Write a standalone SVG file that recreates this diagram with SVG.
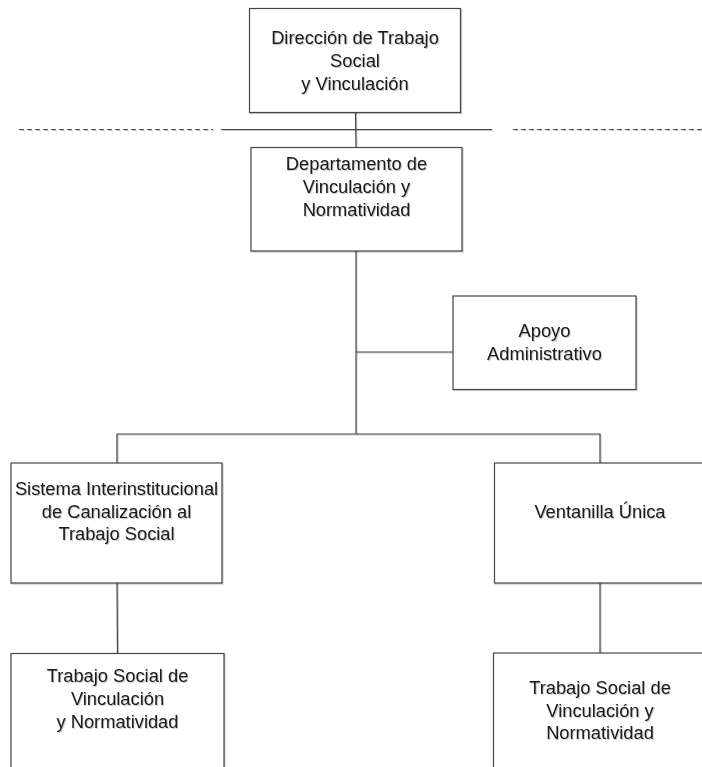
<svg xmlns="http://www.w3.org/2000/svg" width="702" height="767" viewBox="0 0 702 767">
  <defs>
    <!-- light drop shadow; user-space region so straight lines keep it too -->
    <filter id="soft" filterUnits="userSpaceOnUse" x="0" y="0" width="702" height="767">
      <feDropShadow dx="1" dy="1" stdDeviation="0.6" flood-color="#000" flood-opacity="0.22"/>
    </filter>
  </defs>
  <style>
    .box { fill: #ffffff; stroke: #444444; stroke-width: 1.2; filter: url(#soft); }
    .link { fill: none; stroke: #444444; stroke-width: 1.2; filter: url(#soft); }
    .dash { fill: none; stroke: #555555; stroke-width: 1.2; stroke-dasharray: 5 3; filter: url(#soft); }
    .lbl { font-family: "Liberation Sans", Arial, sans-serif; font-size: 18.3px; fill: #1a1a1a; text-anchor: middle; filter: url(#soft); }
  </style>
  <rect width="702" height="767" fill="#ffffff"/>

  <!-- connectors -->
  <g id="connectors">
    <line class="dash" x1="19" y1="129.5" x2="213" y2="129.5"/>
    <line class="link" x1="221" y1="129.5" x2="492" y2="129.5"/>
    <line class="dash" x1="513" y1="129.5" x2="702" y2="129.5"/>
    <line class="link" x1="355.5" y1="112" x2="356" y2="147"/>
    <line class="link" x1="356" y1="251" x2="356" y2="434"/>
    <line class="link" x1="356" y1="352" x2="453" y2="352"/>
    <polyline class="link" points="117,463 117,434 600,434 600,463"/>
    <line class="link" x1="117" y1="583" x2="117.5" y2="653"/>
    <line class="link" x1="600" y1="583" x2="600" y2="653"/>
  </g>

  <g id="direccion">
    <rect class="box" x="249.5" y="8.5" width="211" height="104"/>
    <text class="lbl" x="355" y="43.5">Dirección de Trabajo</text>
    <text class="lbl" x="355" y="66.5">Social</text>
    <text class="lbl" x="355" y="89.5">y Vinculación</text>
  </g>

  <g id="departamento">
    <rect class="box" x="251" y="147.5" width="211" height="103.5"/>
    <text class="lbl" x="356.5" y="169.5">Departamento de</text>
    <text class="lbl" x="356.5" y="192.5">Vinculación y</text>
    <text class="lbl" x="356.5" y="215.5">Normatividad</text>
  </g>

  <g id="apoyo">
    <rect class="box" x="453" y="296" width="183" height="93.5"/>
    <text class="lbl" x="544.5" y="336.5">Apoyo</text>
    <text class="lbl" x="544.5" y="359.5">Administrativo</text>
  </g>

  <g id="sistema">
    <rect class="box" x="11" y="463" width="211" height="120"/>
    <text class="lbl" x="116.5" y="495">Sistema Interinstitucional</text>
    <text class="lbl" x="116.5" y="517.5">de Canalización al</text>
    <text class="lbl" x="116.5" y="540">Trabajo Social</text>
  </g>

  <g id="ventanilla">
    <rect class="box" x="494.5" y="463" width="212" height="120"/>
    <text class="lbl" x="600" y="517.5">Ventanilla Única</text>
  </g>

  <g id="trabajo-social-izq">
    <rect class="box" x="11" y="653.5" width="213" height="130"/>
    <text class="lbl" x="117.5" y="682">Trabajo Social de</text>
    <text class="lbl" x="117.5" y="705">Vinculación</text>
    <text class="lbl" x="117.5" y="728">y Normatividad</text>
  </g>

  <g id="trabajo-social-der">
    <rect class="box" x="493.5" y="653" width="213" height="130"/>
    <text class="lbl" x="600" y="693.5">Trabajo Social de</text>
    <text class="lbl" x="600" y="716.5">Vinculación y</text>
    <text class="lbl" x="600" y="739">Normatividad</text>
  </g>
</svg>
